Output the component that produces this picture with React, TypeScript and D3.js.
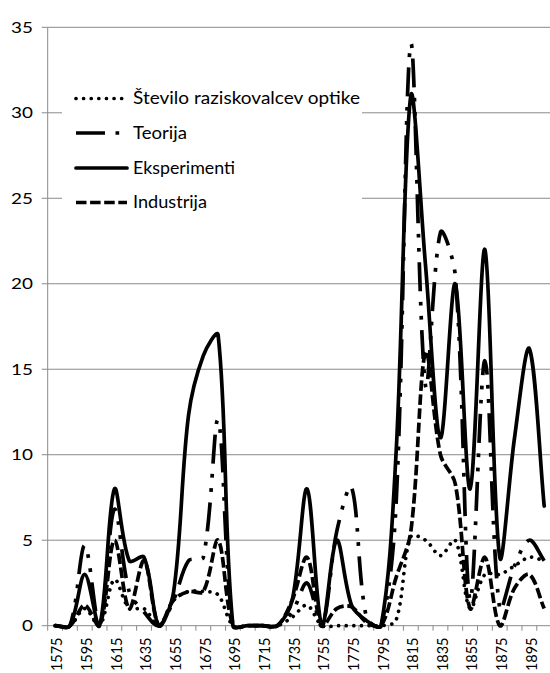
import React from "react";
import * as d3 from "d3";

const years = [
  1575, 1585, 1595, 1605, 1615, 1625, 1635, 1645, 1655, 1665, 1675, 1685,
  1695, 1705, 1715, 1725, 1735, 1745, 1755, 1765, 1775, 1785, 1795, 1805,
  1815, 1825, 1835, 1845, 1855, 1865, 1875, 1885, 1895, 1905,
];
const xTickLabels = [
  1575, 1595, 1615, 1635, 1655, 1675, 1695, 1715, 1735, 1755, 1775, 1795,
  1815, 1835, 1855, 1875, 1895,
];
const yTicks = [0, 5, 10, 15, 20, 25, 30, 35];

const stevilo = [
  0, 0, 1, 0, 2.7, 1, 1, 0, 1.5, 2, 2, 1.8,
  0, 0, 0, 0, 0.5, 1.2, 0, 0, 0, 0, 0, 0.3,
  5.2, 5, 4.1, 5, 1, 3, 3, 3.5, 4, 3.8,
];
const teorija = [
  0, 0, 4.7, 0, 6.8, 2, 0.8, 0, 1.5, 3.8, 4, 12,
  0, 0, 0, 0, 0.8, 2.5, 0, 5.5, 8.1, 0.5, 0, 7,
  34, 14, 23, 20.5, 1.5, 15.5, 1, 3.5, 5, 3.8,
];
const eksperimenti = [
  0, 0, 3, 0, 8, 3.8, 4, 0, 2, 12.3, 15.8, 17,
  0, 0, 0, 0, 1.5, 8, 0, 5, 1.2, 0.3, 0, 10,
  31, 21, 11, 20, 8, 22, 4, 11, 16.2, 7,
];
const industrija = [
  0, 0, 1.2, 0, 5, 1, 3.8, 0, 1.5, 2, 2, 5,
  0, 0, 0, 0, 1.5, 4, 0, 1, 1.1, 0.2, 0, 2.8,
  5.5, 16, 10, 8.3, 1, 4, 0, 2.2, 3, 1,
];

const seriesNames = [
  "Število raziskovalcev optike",
  "Teorija",
  "Eksperimenti",
  "Industrija",
];
const seriesValues = [stevilo, teorija, eksperimenti, industrija];

const W = 550;
const H = 673;
const plotL = 47.7;
const plotR = 551.6;
const plotT = 27.3;
const plotB = 625.7;
const LW = 3.7;

const styles = [
  { dash: "0.01 7.6", cap: "round" },
  { dash: "29 10.5 3.7 10.5 3.7 10.5", cap: "butt" },
  { dash: "none", cap: "round" },
  { dash: "10.5 3.6", cap: "butt" },
];

// legend layout (text widths measured on the reference)
const legendRows = [98.5, 133, 168, 202.5];
const legendTextWidths = [227, 54, 102, 74];

const FONT = "Lato, 'Open Sans', sans-serif";
const GRID = "#8a8a8a";

// Office-style smoothed line: Bezier with tangents weighted by segment lengths
function smoothPath(pts: [number, number][]): string {
  const p = d3.path();
  const n = pts.length;
  if (!n) return "";
  p.moveTo(pts[0][0], pts[0][1]);
  const dist = (a: [number, number], b: [number, number]) =>
    Math.hypot(b[0] - a[0], b[1] - a[1]);
  for (let i = 0; i < n - 1; i++) {
    const P0 = pts[i - 1] || pts[i];
    const P1 = pts[i];
    const P2 = pts[i + 1];
    const P3 = pts[i + 2] || pts[i + 1];
    const d01 = dist(P0, P1);
    const d12 = dist(P1, P2);
    const d23 = dist(P2, P3);
    const f1 = d01 + d12 > 0 ? d12 / (d01 + d12) : 0;
    const f2 = d12 + d23 > 0 ? d12 / (d12 + d23) : 0;
    const c1x = P1[0] + ((P2[0] - P0[0]) * f1) / 3;
    const c1y = P1[1] + ((P2[1] - P0[1]) * f1) / 3;
    const c2x = P2[0] - ((P3[0] - P1[0]) * f2) / 3;
    const c2y = P2[1] - ((P3[1] - P1[1]) * f2) / 3;
    p.bezierCurveTo(c1x, c1y, c2x, c2y, P2[0], P2[1]);
  }
  return p.toString();
}

export default function App() {
  const x = d3
    .scaleBand<number>()
    .domain(years)
    .range([plotL, plotR])
    .paddingInner(0)
    .paddingOuter(0);
  const bw = x.bandwidth();
  const cx = (yr: number) => (x(yr) as number) + bw / 2;
  const y = d3.scaleLinear().domain([0, 35]).range([plotB, plotT]);

  const toPts = (vals: number[]) =>
    vals.map((v, i) => [cx(years[i]), y(v)] as [number, number]);

  const tickXs = years.map((yr) => x(yr) as number).concat([plotR]);

  return (
    <svg
      width={W}
      height={H}
      style={{ position: "absolute", left: 0, top: 0, background: "#fff" }}
      fontFamily={FONT}
    >
      <rect x={0} y={0} width={W} height={H} fill="#fff" />
      {yTicks.map((t) => (
        <line
          key={"g" + t}
          x1={plotL}
          x2={plotR}
          y1={y(t)}
          y2={y(t)}
          stroke={GRID}
          strokeWidth={1}
        />
      ))}
      <line x1={plotL} x2={plotL} y1={plotT} y2={plotB} stroke={GRID} strokeWidth={1} />
      {yTicks.map((t) => (
        <line
          key={"yt" + t}
          x1={plotL - 6}
          x2={plotL}
          y1={y(t)}
          y2={y(t)}
          stroke={GRID}
          strokeWidth={1}
        />
      ))}
      {yTicks.map((t) => (
        <text
          key={"yl" + t}
          transform={`translate(33,${y(t)}) scale(1.26,1)`}
          textAnchor="end"
          dy="0.36em"
          fontSize={15}
          fill="#000"
        >
          {t}
        </text>
      ))}
      {tickXs.map((tx, i) => (
        <line
          key={"xt" + i}
          x1={tx}
          x2={tx}
          y1={plotB}
          y2={plotB + 5}
          stroke={GRID}
          strokeWidth={1}
        />
      ))}
      {xTickLabels.map((yr) => (
        <text
          key={"xl" + yr}
          transform={`translate(${cx(yr) + 1.5},637.5) scale(1.12,1) rotate(-90)`}
          textAnchor="end"
          dy="0.36em"
          fontSize={14.5}
          fill="#000"
        >
          {yr}
        </text>
      ))}
      {seriesValues.map((vals, i) => (
        <path
          key={"s" + i}
          d={smoothPath(toPts(vals))}
          fill="none"
          stroke="#000"
          strokeWidth={LW}
          strokeDasharray={styles[i].dash}
          strokeLinecap={styles[i].cap as any}
          strokeLinejoin="round"
        />
      ))}
      <rect x={62} y={80} width={300} height={140} fill="#fff" />
      {seriesNames.map((name, i) => (
        <g key={"lg" + i}>
          <line
            x1={76}
            x2={127}
            y1={legendRows[i]}
            y2={legendRows[i]}
            stroke="#000"
            strokeWidth={LW}
            strokeDasharray={styles[i].dash}
            strokeLinecap={styles[i].cap as any}
          />
          <text
            x={133}
            y={legendRows[i]}
            dy="0.36em"
            fontSize={16.5}
            textLength={legendTextWidths[i]}
            lengthAdjust="spacingAndGlyphs"
            fill="#000"
          >
            {name}
          </text>
        </g>
      ))}
    </svg>
  );
}
